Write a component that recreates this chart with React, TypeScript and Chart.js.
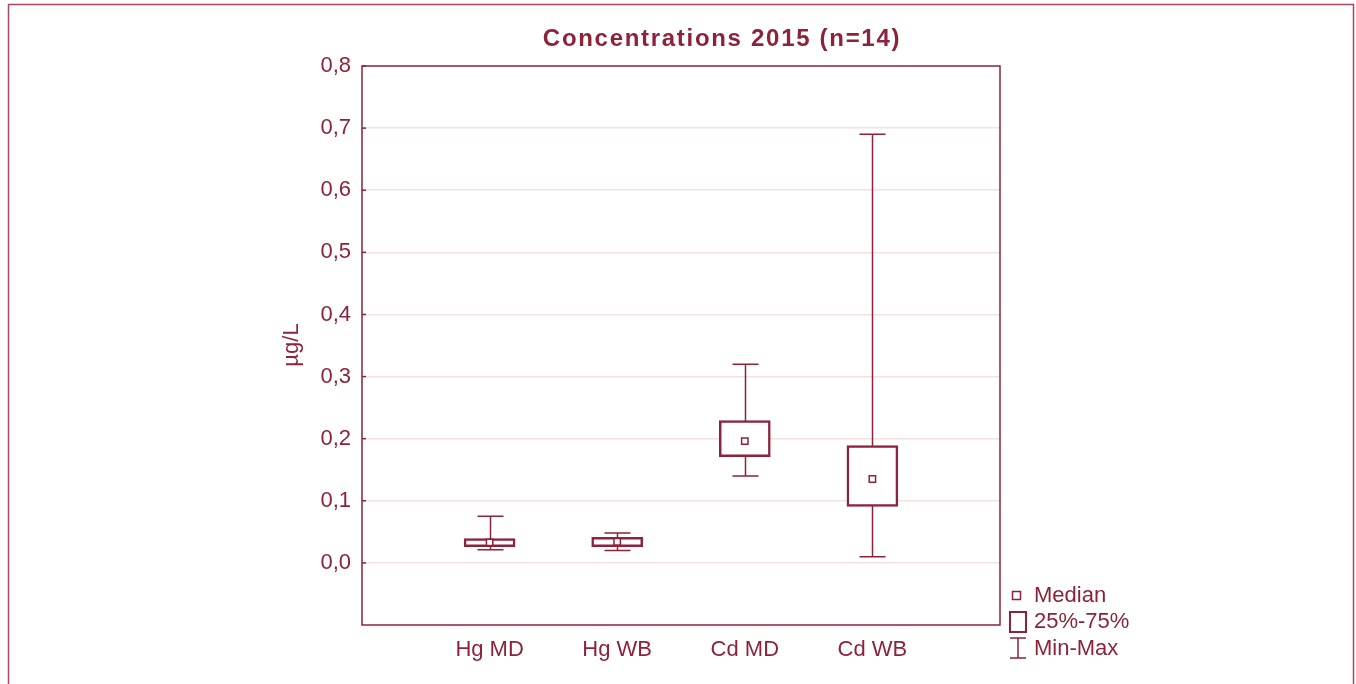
import React, { useEffect, useRef } from "react";
import { Chart, registerables } from "chart.js";

Chart.register(...registerables);

const categories = ["", "Hg MD", "Hg WB", "Cd MD", "Cd WB", ""];
const minValues = [null, 0.021, 0.02, 0.14, 0.01, null];
const q1Values = [null, 0.026, 0.026, 0.171, 0.091, null];
const medianValues = [null, 0.033, 0.034, 0.196, 0.135, null];
const q3Values = [null, 0.039, 0.041, 0.229, 0.189, null];
const maxValues = [null, 0.075, 0.048, 0.32, 0.69, null];
const legendLabels = ["Median", "25%-75%", "Min-Max"];
const titleText = "Concentrations 2015 (n=14)";
const yAxisTitle = "µg/L";

const MAROON = "#8C2338";
const GRID = "#f2e2e2";
const FONT = "'Liberation Sans', Arial, sans-serif";

export default function App() {
  const ref = useRef<HTMLCanvasElement | null>(null);

  useEffect(() => {
    const canvas = ref.current;
    if (!canvas) return;

    const decorPlugin = {
      id: "decor",
      beforeDatasetsDraw(chart: any) {
        const ctx = chart.ctx;
        const x = chart.scales.x;
        const y = chart.scales.y;
        ctx.save();
        ctx.strokeStyle = MAROON;
        ctx.lineWidth = 1.5;
        for (let i = 0; i < categories.length; i++) {
          const mn = minValues[i];
          const mx = maxValues[i];
          if (mn == null || mx == null) continue;
          const cx = Math.round(x.getPixelForValue(i)) + 0.5;
          const yMin = y.getPixelForValue(mn);
          const yMax = y.getPixelForValue(mx);
          ctx.beginPath();
          ctx.moveTo(cx, yMin);
          ctx.lineTo(cx, yMax);
          ctx.moveTo(cx - 13, yMin);
          ctx.lineTo(cx + 13, yMin);
          ctx.moveTo(cx - 13, yMax);
          ctx.lineTo(cx + 13, yMax);
          ctx.stroke();
        }
        ctx.restore();
      },
      afterDraw(chart: any) {
        const ctx = chart.ctx;
        const a = chart.chartArea;
        const y = chart.scales.y;
        ctx.save();
        // outer frame
        ctx.strokeStyle = "#a8485a";
        ctx.lineWidth = 1.5;
        ctx.beginPath();
        ctx.moveTo(8.5, 700);
        ctx.lineTo(8.5, 4.5);
        ctx.lineTo(1353.5, 4.5);
        ctx.lineTo(1353.5, 700);
        ctx.stroke();
        // plot frame
        ctx.strokeStyle = MAROON;
        ctx.lineWidth = 1.5;
        ctx.strokeRect(a.left, a.top, a.right - a.left, a.bottom - a.top);
        // inward ticks
        ctx.lineWidth = 1.5;
        for (const t of y.ticks) {
          if (t.value < -0.001) continue;
          const py = y.getPixelForValue(t.value);
          ctx.beginPath();
          ctx.moveTo(a.left, py);
          ctx.lineTo(a.left + 4, py);
          ctx.stroke();
        }
        // title
        ctx.fillStyle = MAROON;
        ctx.font = `bold 24px ${FONT}`;
        (ctx as any).letterSpacing = "1.7px";
        ctx.textAlign = "center";
        ctx.textBaseline = "alphabetic";
        ctx.fillText(titleText, 722, 46);
        (ctx as any).letterSpacing = "0px";
        // y axis title
        ctx.save();
        ctx.translate(292, 345);
        ctx.rotate(-Math.PI / 2);
        ctx.font = `22px ${FONT}`;
        ctx.textAlign = "center";
        ctx.textBaseline = "middle";
        ctx.fillText(yAxisTitle, 0, 0);
        ctx.restore();
        // legend
        ctx.strokeStyle = MAROON;
        ctx.lineWidth = 1.5;
        ctx.fillStyle = "#ffffff";
        ctx.fillRect(1012.5, 591.5, 8, 8);
        ctx.strokeRect(1012.5, 591.5, 8, 8);
        ctx.lineWidth = 2;
        ctx.strokeRect(1010, 612, 16, 20);
        ctx.lineWidth = 1.5;
        ctx.beginPath();
        ctx.moveTo(1018, 638);
        ctx.lineTo(1018, 658);
        ctx.moveTo(1010, 638);
        ctx.lineTo(1026, 638);
        ctx.moveTo(1010, 658);
        ctx.lineTo(1026, 658);
        ctx.stroke();
        ctx.fillStyle = MAROON;
        ctx.font = `22px ${FONT}`;
        ctx.textAlign = "left";
        ctx.textBaseline = "middle";
        ctx.fillText(legendLabels[0], 1034, 596);
        ctx.fillText(legendLabels[1], 1034, 622);
        ctx.fillText(legendLabels[2], 1034, 649);
        ctx.restore();
      },
    };

    const boxData = q1Values.map((q, i) =>
      q == null || q3Values[i] == null ? null : [q, q3Values[i]]
    );

    const chart = new Chart(canvas, {
      type: "bar",
      data: {
        labels: categories,
        datasets: [
          {
            type: "bar",
            label: "25%-75%",
            data: boxData as any,
            backgroundColor: "#ffffff",
            borderColor: MAROON,
            borderWidth: 2.5,
            borderSkipped: false,
            barThickness: 51,
            order: 2,
          } as any,
          {
            type: "line",
            label: "Median",
            data: medianValues as any,
            showLine: false,
            pointStyle: "rect",
            pointRadius: 4.5,
            pointBackgroundColor: "#ffffff",
            pointBorderColor: MAROON,
            pointBorderWidth: 1.5,
            order: 1,
          } as any,
        ],
      },
      options: {
        responsive: false,
        animation: false,
        layout: { padding: { top: 66, right: 356, bottom: 0, left: 0 } },
        plugins: {
          legend: { display: false },
          title: { display: false },
          tooltip: { enabled: false },
        },
        scales: {
          x: {
            type: "category",
            offset: false,
            grid: { display: false, drawTicks: false },
            border: { display: false },
            ticks: {
              color: MAROON,
              font: { family: FONT, size: 22 },
              padding: 12,
              autoSkip: false,
              maxRotation: 0,
            },
            afterFit(scale: any) {
              scale.height = 59;
            },
          },
          y: {
            min: -0.1,
            max: 0.8,
            grid: {
              drawTicks: false,
              color: (c: any) =>
                c.tick && c.tick.value > -0.001 && c.tick.value < 0.75 ? GRID : "rgba(0,0,0,0)",
              lineWidth: 1.5,
            },
            border: { display: false },
            ticks: {
              stepSize: 0.1,
              color: MAROON,
              font: { family: FONT, size: 22 },
              padding: 11,
              callback: (v: any) => {
                const n = Number(v);
                if (n < -0.001) return "";
                return (Math.abs(n) < 1e-9 ? 0 : n).toFixed(1).replace(".", ",");
              },
            },
            afterFit(scale: any) {
              scale.width = 362;
            },
          },
        },
      } as any,
      plugins: [decorPlugin],
    });

    return () => chart.destroy();
  }, []);

  return (
    <div style={{ position: "fixed", left: 0, top: 0, width: 1356, height: 684, background: "#fff" }}>
      <canvas ref={ref} width={1356} height={684} />
    </div>
  );
}
